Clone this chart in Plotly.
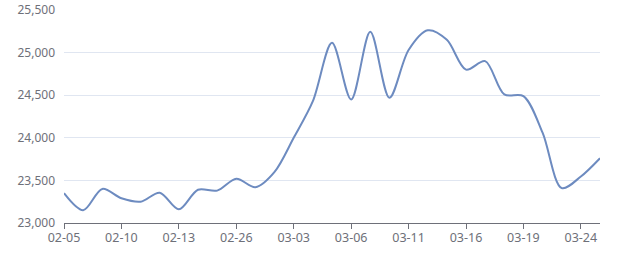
import plotly.graph_objects as go

dates = ["02-05", "02-06", "02-07", "02-10", "02-11", "02-12", "02-13", "02-14",
         "02-25", "02-26", "02-27", "02-28", "03-03", "03-04", "03-05", "03-06",
         "03-07", "03-10", "03-11", "03-12", "03-13", "03-16", "03-17", "03-18",
         "03-19", "03-20", "03-21", "03-24", "03-25"]
prices = [23350, 23150, 23400, 23290, 23250, 23355, 23160, 23390,
          23380, 23520, 23420, 23600, 24000, 24430, 25115, 24450,
          25245, 24470, 25030, 25262, 25150, 24800, 24900, 24510,
          24490, 24060, 23410, 23545, 23760]
tick_labels = ["02-05", "02-10", "02-13", "02-26", "03-03", "03-06",
               "03-11", "03-16", "03-19", "03-24"]
y_ticks = [23000, 23500, 24000, 24500, 25000, 25500]

fig = go.Figure()
fig.add_trace(go.Scatter(
    x=dates, y=prices, mode="lines",
    line=dict(color="#6d8bc0", width=2, shape="spline", smoothing=0.9),
    hoverinfo="x+y", showlegend=False,
))

font = dict(family="Noto Sans, DejaVu Sans, sans-serif", size=12, color="#6e7079")
xfont = dict(family="Noto Sans, DejaVu Sans, sans-serif", size=12.5, color="#6e7079")
fig.update_layout(
    width=640, height=270,
    margin=dict(l=64, r=40, t=10, b=47, autoexpand=False),
    paper_bgcolor="white", plot_bgcolor="white",
    font=font,
    xaxis=dict(
        type="category", categoryorder="array", categoryarray=dates,
        range=[0, len(dates) - 1], automargin=False,
        tickmode="array", tickvals=tick_labels, ticktext=tick_labels,
        showline=True, linecolor="#6e7079", linewidth=1,
        ticks="outside", ticklen=5, tickcolor="#6e7079",
        showgrid=False, zeroline=False, tickfont=xfont,
        ticklabelstandoff=-2,
    ),
    yaxis=dict(
        range=[23000, 25500], automargin=False,
        tickmode="array", tickvals=y_ticks,
        tickformat=",d",
        showline=False, showgrid=True, gridcolor="#e0e6f1", gridwidth=1,
        zeroline=False, ticks="", ticklabelstandoff=8, tickfont=font,
    ),
)

fig.write_html("out.html")
